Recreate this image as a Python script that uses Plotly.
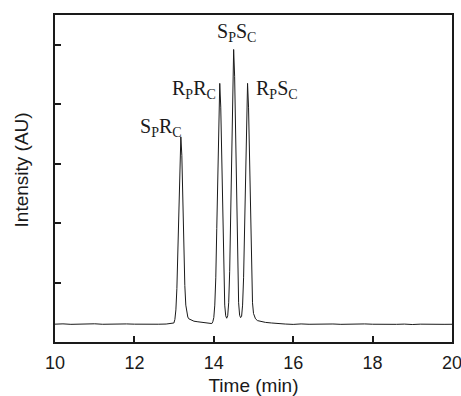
import plotly.graph_objects as go

# Chromatogram trace: time (min) and intensity (AU, arbitrary units)
time_min = [
    10.0, 10.2, 10.4, 10.6, 10.8, 11.0, 11.2, 11.4, 11.6, 11.8, 12.0, 12.2, 12.4, 12.6, 12.8, 12.995,
    13.02, 13.045, 13.07, 13.095, 13.12, 13.145, 13.17, 13.195, 13.22, 13.245, 13.27, 13.295, 13.32,
    13.345, 13.37, 13.42, 13.5, 13.6, 13.7, 13.85, 13.95, 13.975,
    14.0, 14.025, 14.05, 14.075, 14.1, 14.125, 14.15, 14.175, 14.2, 14.225, 14.25, 14.275, 14.3,
    14.325, 14.35, 14.375, 14.4, 14.425, 14.45, 14.475, 14.5, 14.525, 14.55, 14.575, 14.6, 14.625,
    14.65, 14.675, 14.7, 14.725, 14.75, 14.775, 14.8, 14.825, 14.85, 14.875, 14.9, 14.925, 14.95,
    14.975, 15.0, 15.025, 15.05, 15.1, 15.2, 15.3, 15.45, 15.6, 15.8, 16.0, 16.2, 16.4, 16.6, 16.8,
    17.0, 17.2, 17.4, 17.6, 17.8, 18.0, 18.2, 18.4, 18.6, 18.8, 19.0, 19.2, 19.4, 19.6, 19.8, 20.0,
]
intensity = [
    0.30, 0.305, 0.297, 0.303, 0.299, 0.306, 0.298, 0.302, 0.296, 0.304, 0.30, 0.297, 0.305, 0.299, 0.302, 0.32,
    0.38, 0.54, 0.90, 1.54, 2.39, 3.14, 3.45, 3.14, 2.39, 1.54, 0.95, 0.62, 0.48,
    0.42, 0.39, 0.37, 0.35, 0.34, 0.33, 0.32, 0.31, 0.34,
    0.41, 0.62, 1.08, 1.91, 2.98, 3.95, 4.35, 3.95, 2.98, 1.91, 1.08, 0.62, 0.44,
    0.40, 0.44, 0.66, 1.19, 2.13, 3.36, 4.47, 4.92, 4.47, 3.36, 2.13, 1.19, 0.66,
    0.45, 0.41, 0.43, 0.62, 1.08, 1.91, 2.98, 3.95, 4.35, 3.95, 2.98, 1.91, 1.08,
    0.66, 0.48, 0.42, 0.39, 0.36, 0.34, 0.33, 0.32, 0.31, 0.302, 0.296, 0.304, 0.298, 0.301, 0.295,
    0.303, 0.297, 0.302, 0.296, 0.304, 0.299, 0.295, 0.302, 0.297, 0.301, 0.294, 0.30, 0.296, 0.302, 0.297, 0.298,
]

# Peak labels
peak_labels = ["S<sub>P</sub>R<sub>C</sub>", "R<sub>P</sub>R<sub>C</sub>",
               "S<sub>P</sub>S<sub>C</sub>", "R<sub>P</sub>S<sub>C</sub>"]
label_x = [12.67, 13.51, 14.58, 15.58]
label_y = [3.60, 4.24, 5.20, 4.24]

x_ticks = [10, 12, 14, 16, 18, 20]
y_ticks = [1, 2, 3, 4, 5]

fig = go.Figure()
fig.add_trace(go.Scatter(x=time_min, y=intensity, mode="lines",
                         line=dict(color="#1a1a1a", width=1), showlegend=False,
                         hoverinfo="skip"))

for txt, lx, ly in zip(peak_labels, label_x, label_y):
    fig.add_annotation(x=lx, y=ly, text=txt, showarrow=False,
                       font=dict(family="Liberation Serif", size=20, color="#1a1a1a"),
                       xanchor="center", yanchor="middle")

# y-axis title placed as a rotated annotation
fig.add_annotation(xref="paper", yref="paper", x=-0.082, y=0.526, text="Intensity (AU)",
                   textangle=-90, showarrow=False, xanchor="center", yanchor="middle",
                   font=dict(family="Liberation Sans", size=19, color="#1a1a1a"))

fig.update_layout(
    width=461, height=396,
    margin=dict(l=55, r=9, t=15, b=54),
    paper_bgcolor="white", plot_bgcolor="white",
    font=dict(family="Liberation Sans", color="#1a1a1a"),
)
fig.update_xaxes(range=[10, 20], tickvals=x_ticks, ticks="inside", ticklen=6, tickwidth=2,
                 tickcolor="#1a1a1a", showline=True, linewidth=2, linecolor="#1a1a1a",
                 mirror=True, showgrid=False, zeroline=False, automargin=False,
                 ticklabeloverflow="allow", ticklabelstandoff=3,
                 tickfont=dict(size=18), title=dict(text="Time (min)", font=dict(size=19), standoff=9))
fig.update_yaxes(range=[0, 5.5], tickvals=y_ticks, ticks="inside", ticklen=6, tickwidth=2,
                 tickcolor="#1a1a1a", showline=True, linewidth=2, linecolor="#1a1a1a",
                 mirror=True, showgrid=False, zeroline=False, showticklabels=False, automargin=False)

fig.write_html("out.html", config={"displayModeBar": False},
               post_script="document.body.style.margin='0';document.body.style.overflow='hidden';")
